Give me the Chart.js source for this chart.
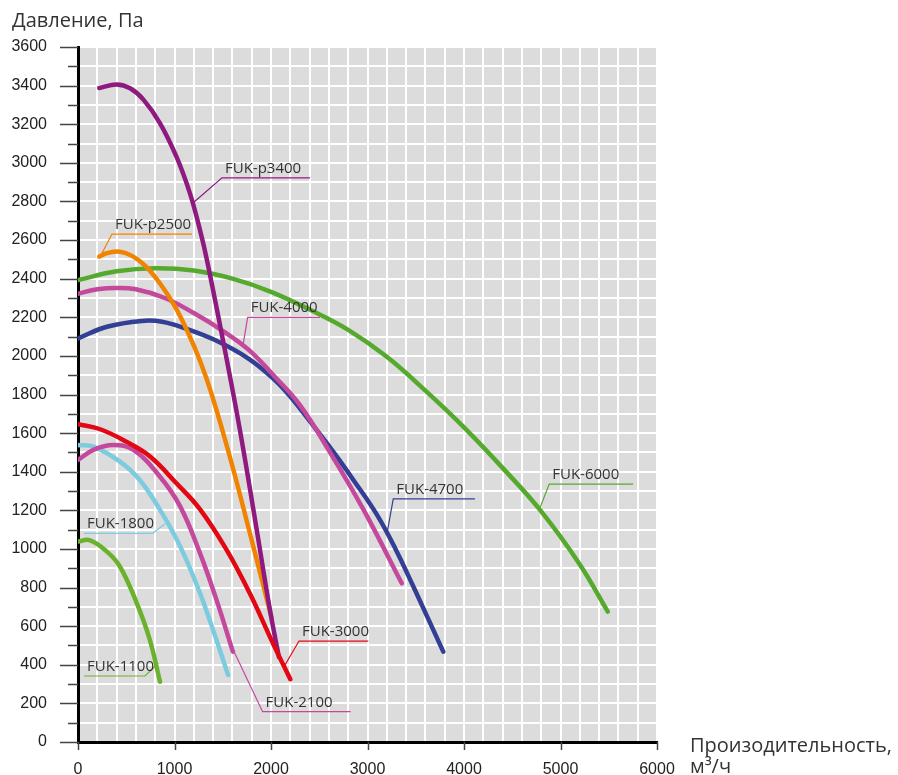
<!DOCTYPE html>
<html>
<head>
<meta charset="utf-8">
<script src="https://cdn.jsdelivr.net/npm/chart.js@4.4.1/dist/chart.umd.min.js"></script>
<style>
  html, body { margin: 0; padding: 0; background: #fff; }
</style>
</head>
<body>
<canvas id="fan-chart" width="898" height="775"></canvas>
<script>
// flow, m3/h  /  pressure, Pa
const fuk3000Flow = [0, 230, 500, 750, 1020, 1265, 1540, 1780, 2020, 2200];
const fuk3000Pressure = [1646, 1620, 1556, 1478, 1340, 1205, 995, 770, 511, 325];

const fukP3400Flow = [220, 400, 540, 680, 850, 1020, 1160, 1265, 1336, 1502, 1678, 1844, 1989, 2082];
const fukP3400Pressure = [3388, 3406, 3386, 3326, 3205, 3032, 2842, 2650, 2497, 2082, 1616, 1124, 684, 440];

const fukP2500Flow = [220, 300, 435, 560, 700, 850, 1000, 1143, 1264, 1380, 1575, 1782, 2007];
const fukP2500Pressure = [2514, 2532, 2540, 2518, 2465, 2375, 2260, 2117, 1975, 1810, 1475, 1080, 641];

const fuk2100Flow = [0, 160, 365, 575, 850, 1060, 1265, 1435, 1605];
const fuk2100Pressure = [1461, 1513, 1538, 1513, 1374, 1219, 977, 736, 468];

const fuk1800Flow = [0, 160, 435, 640, 850, 1060, 1265, 1435, 1555];
const fuk1800Pressure = [1538, 1530, 1452, 1357, 1202, 1012, 770, 528, 347];

const fuk1100Flow = [0, 120, 300, 435, 610, 745, 850];
const fuk1100Pressure = [1038, 1046, 986, 908, 718, 528, 312];

const fuk4000Flow = [0, 200, 400, 600, 900, 1200, 1500, 1770, 2040, 2300, 2600, 2960, 3355];
const fuk4000Pressure = [2322, 2345, 2352, 2345, 2300, 2222, 2130, 2031, 1892, 1745, 1510, 1202, 822];

const fuk4700Flow = [0, 300, 660, 870, 1110, 1420, 1770, 2040, 2200, 2420, 2650, 2850, 3094, 3290, 3480, 3785];
const fuk4700Pressure = [2091, 2151, 2181, 2177, 2143, 2082, 1985, 1875, 1789, 1650, 1500, 1360, 1180, 1000, 800, 468];

const fuk6000Flow = [0, 400, 800, 1200, 1600, 2000, 2400, 2800, 3200, 3600, 4000, 4400, 4800, 5200, 5490];
const fuk6000Pressure = [2393, 2438, 2454, 2442, 2400, 2332, 2240, 2135, 1995, 1820, 1630, 1420, 1195, 920, 675];

const flowMax = 6000;
const pressureMax = 3600;

(function() {
  "use strict";

  const series = [
    { name: "FUK-3000", color: "#e30613", flow: fuk3000Flow, pressure: fuk3000Pressure },
    { name: "FUK-p3400", color: "#8e1a80", flow: fukP3400Flow, pressure: fukP3400Pressure },
    { name: "FUK-p2500", color: "#f08400", flow: fukP2500Flow, pressure: fukP2500Pressure },
    { name: "FUK-2100", color: "#c4489c", flow: fuk2100Flow, pressure: fuk2100Pressure },
    { name: "FUK-1800", color: "#7ccbdf", flow: fuk1800Flow, pressure: fuk1800Pressure },
    { name: "FUK-1100", color: "#6ab22e", flow: fuk1100Flow, pressure: fuk1100Pressure },
    { name: "FUK-4000", color: "#c4489c", flow: fuk4000Flow, pressure: fuk4000Pressure },
    { name: "FUK-4700", color: "#333f94", flow: fuk4700Flow, pressure: fuk4700Pressure },
    { name: "FUK-6000", color: "#55aa2d", flow: fuk6000Flow, pressure: fuk6000Pressure }
  ];

  // leader lines: curve point -> elbow -> end of underline (data units)
  const callouts = [
    { text: "FUK-p3400", color: "#8e1a80", pts: [[1191, 2792], [1492, 2922], [2404, 2922]] },
    { text: "FUK-p2500", color: "#f08400", pts: [[228, 2512], [352, 2631], [1181, 2631]] },
    { text: "FUK-4000", color: "#c4489c", pts: [[1713, 2065], [1758, 2200], [2507, 2200]] },
    { text: "FUK-4700", color: "#333f94", pts: [[3205, 1089], [3267, 1259], [4113, 1259]] },
    { text: "FUK-6000", color: "#55aa2d", pts: [[4779, 1202], [4883, 1336], [5753, 1336]] },
    { text: "FUK-1800", color: "#7ccbdf", pts: [[901, 1129], [774, 1081], [62, 1081]] },
    { text: "FUK-1100", color: "#6ab22e", pts: [[832, 408], [694, 342], [62, 342]] },
    { text: "FUK-3000", color: "#e30613", pts: [[2145, 399], [2290, 523], [3008, 523]] },
    { text: "FUK-2100", color: "#c4489c", pts: [[1609, 477], [1913, 157], [2825, 157]] }
  ];

  const plotBackground = {
    id: "plotBackground",
    beforeDraw(chart) {
      const { ctx, chartArea: a } = chart;
      ctx.save();
      ctx.fillStyle = "#dcdcdc";
      ctx.fillRect(a.left, a.top, a.right - a.left, a.bottom - a.top);
      ctx.restore();
    }
  };

  const decorations = {
    id: "decorations",
    afterDraw(chart) {
      const { ctx, chartArea: a } = chart;
      const xs = chart.scales.x;
      const ys = chart.scales.y;
      ctx.save();

      // axis tick marks
      ctx.strokeStyle = "#444";
      ctx.lineWidth = 1.5;
      ctx.beginPath();
      for (let v = 0; v <= pressureMax; v += 100) {
        const py = Math.round(ys.getPixelForValue(v)) + 0.5;
        ctx.moveTo(v % 200 === 0 ? a.left - 18 : a.left - 10, py);
        ctx.lineTo(a.left, py);
      }
      for (let v = 0; v <= flowMax; v += 1000) {
        const px = Math.round(xs.getPixelForValue(v)) + 0.5;
        ctx.moveTo(px, a.bottom);
        ctx.lineTo(px, a.bottom + 8);
      }
      ctx.stroke();

      // callouts
      ctx.font = '15px "Open Sans"';
      ctx.textBaseline = "alphabetic";
      ctx.textAlign = "left";
      callouts.forEach((c) => {
        const p = c.pts.map(([fx, fy]) => [xs.getPixelForValue(fx), ys.getPixelForValue(fy)]);
        ctx.strokeStyle = c.color;
        ctx.lineWidth = 1.2;
        ctx.beginPath();
        ctx.moveTo(p[0][0], p[0][1]);
        ctx.lineTo(p[1][0], p[1][1]);
        ctx.lineTo(p[2][0], p[2][1]);
        ctx.stroke();
        ctx.fillStyle = "#333";
        ctx.fillText(c.text, Math.min(p[1][0], p[2][0]) + 3, p[1][1] - 5);
      });

      // axis titles
      ctx.fillStyle = "#333";
      ctx.font = '20px "Open Sans"';
      ctx.fillText("Давление, Па", 12, 27);
      ctx.fillText("Произодительность,", 690, 752);
      ctx.fillText("м³/ч", 690, 773);
      ctx.restore();
    }
  };

  const ctx = document.getElementById("fan-chart").getContext("2d");
  new Chart(ctx, {
    type: "scatter",
    data: {
      datasets: series.map((s) => ({
        label: s.name,
        data: s.flow.map((f, i) => ({ x: f, y: s.pressure[i] })),
        showLine: true,
        borderColor: s.color,
        backgroundColor: s.color,
        borderWidth: 4.5,
        borderCapStyle: "round",
        borderJoinStyle: "round",
        pointRadius: 0,
        pointHoverRadius: 0,
        tension: 0.4
      }))
    },
    options: {
      responsive: false,
      animation: false,
      devicePixelRatio: 1,
      layout: { padding: { left: 0, top: 47, right: 241, bottom: 0 } },
      plugins: {
        legend: { display: false },
        tooltip: { enabled: false }
      },
      scales: {
        x: {
          type: "linear",
          min: 0,
          max: flowMax,
          afterFit: (scale) => { scale.height = 33; },
          border: { display: true, color: "#000", width: 3 },
          grid: { color: "#fff", lineWidth: 2, drawTicks: false },
          ticks: {
            stepSize: 200,
            autoSkip: false,
            maxRotation: 0,
            padding: 18,
            color: "#222",
            font: { family: "Liberation Sans", size: 16 },
            callback: (v) => (v % 1000 === 0 ? v : "")
          }
        },
        y: {
          type: "linear",
          min: 0,
          max: pressureMax,
          afterFit: (scale) => { scale.width = 78; },
          border: { display: true, color: "#000", width: 3 },
          // invisible tick length keeps the labels off the axis (marks are drawn by hand)
          grid: { color: "#fff", lineWidth: 2, drawTicks: true, tickLength: 31, tickColor: "rgba(0,0,0,0)" },
          ticks: {
            stepSize: 100,
            autoSkip: false,
            padding: 0,
            color: "#222",
            font: { family: "Liberation Sans", size: 16 },
            callback: (v) => (v % 200 === 0 ? v : "")
          }
        }
      }
    },
    plugins: [plotBackground, decorations]
  });
})();
</script>
</body>
</html>
